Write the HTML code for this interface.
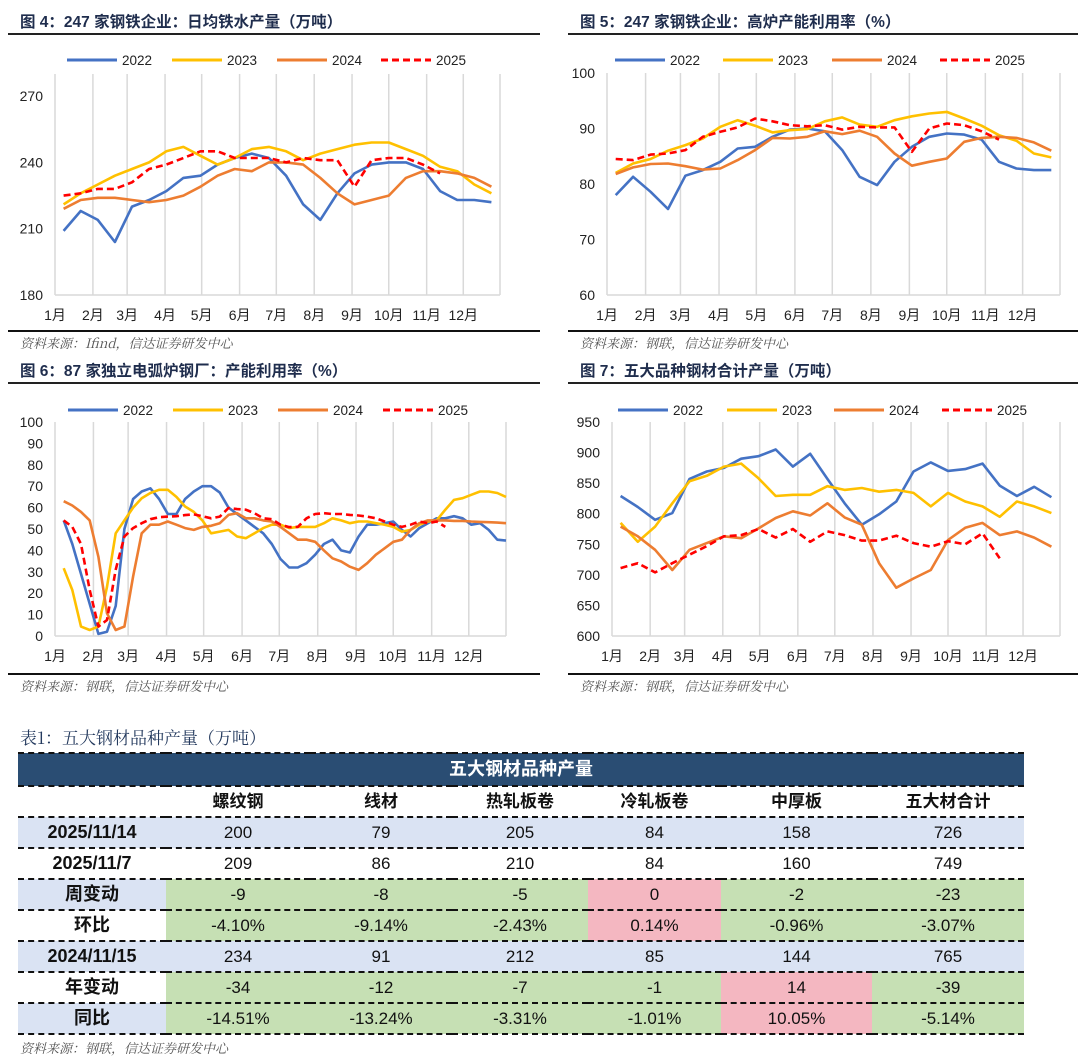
<!DOCTYPE html>
<html><head><meta charset="utf-8">
<style>
body{margin:0;background:#fff;width:1080px;height:1059px;position:relative;overflow:hidden;font-family:"Liberation Sans","Noto Sans CJK SC",sans-serif;}
#charts{position:absolute;left:0;top:0}
.tbl-title{position:absolute;left:20px;top:724px;font-family:"Noto Serif CJK SC",serif;font-size:17px;color:#243a5e;}
table{position:absolute;left:18px;top:752px;border-collapse:collapse;font-family:"Liberation Sans Narrow","Liberation Sans","Noto Sans CJK SC",sans-serif;font-size:17px;color:#111;}
td{padding:0;text-align:center;height:29px;line-height:29px;border-bottom:2px dashed #111;}
.hd td{background:#2a4d73;color:#fff;font-weight:bold;height:31px;line-height:31px;font-size:18px;border-top:2px dashed #111;}
.lbl{font-weight:bold;font-size:18px;}
.ch td{font-weight:bold;}
.b{background:#dae3f3}.g{background:#c6e0b4}.p{background:#f4b7c1}
.src2{position:absolute;left:20px;top:1038px;font-size:13px;font-style:italic;color:#555;font-family:"Noto Serif CJK SC",serif;}
</style></head><body>
<svg id="charts" width="1080" height="720"></svg>

<div class="tbl-title">表1：五大钢材品种产量（万吨）</div>
<table>
<colgroup><col style="width:148px"><col style="width:144px"><col style="width:142px"><col style="width:136px"><col style="width:133px"><col style="width:151px"><col style="width:152px"></colgroup>
<tr class="hd"><td colspan="7">五大钢材品种产量</td></tr>
<tr class="ch"><td></td><td>螺纹钢</td><td>线材</td><td>热轧板卷</td><td>冷轧板卷</td><td>中厚板</td><td>五大材合计</td></tr>
<tr class="b"><td class="lbl">2025/11/14</td><td>200</td><td>79</td><td>205</td><td>84</td><td>158</td><td>726</td></tr>
<tr><td class="lbl">2025/11/7</td><td>209</td><td>86</td><td>210</td><td>84</td><td>160</td><td>749</td></tr>
<tr><td class="lbl b">周变动</td><td class="g">-9</td><td class="g">-8</td><td class="g">-5</td><td class="p">0</td><td class="g">-2</td><td class="g">-23</td></tr>
<tr><td class="lbl">环比</td><td class="g">-4.10%</td><td class="g">-9.14%</td><td class="g">-2.43%</td><td class="p">0.14%</td><td class="g">-0.96%</td><td class="g">-3.07%</td></tr>
<tr class="b"><td class="lbl">2024/11/15</td><td>234</td><td>91</td><td>212</td><td>85</td><td>144</td><td>765</td></tr>
<tr><td class="lbl">年变动</td><td class="g">-34</td><td class="g">-12</td><td class="g">-7</td><td class="g">-1</td><td class="p">14</td><td class="g">-39</td></tr>
<tr><td class="lbl b">同比</td><td class="g">-14.51%</td><td class="g">-13.24%</td><td class="g">-3.31%</td><td class="g">-1.01%</td><td class="p">10.05%</td><td class="g">-5.14%</td></tr>
</table>
<div class="src2">资料来源：钢联，信达证券研发中心</div>

<script>
const months = ["1月","2月","3月","4月","5月","6月","7月","8月","9月","10月","11月","12月"];
const monthWeeks = [0,4.43,8.43,12.86,17.14,21.57,25.86,30.29,34.71,39,43.43,47.71];
const years = ["2022","2023","2024","2025"];
const biWeeks = [1,3,5,7,9,11,13,15,17,19,21,23,25,27,29,31,33,35,37,39,41,43,45,47,49,51];
const weeks = [1,2,3,4,5,6,7,8,9,10,11,12,13,14,15,16,17,18,19,20,21,22,23,24,25,26,27,28,29,30,31,32,33,34,35,36,37,38,39,40,41,42,43,44,45,46,47,48,49,50,51,52];

const c1Ticks = [180,210,240,270];
const c1_2022 = [209,218,214,204,220,223,227,233,234,239,242,244,242,234,221,214,226,235,239,240,240,237,227,223,223,222];
const c1_2023 = [221,226,230,234,237,240,245,247,243,239,242,246,247,245,241,244,246,248,249,249,246,243,238,236,230,226];
const c1_2024 = [219,223,224,224,223,222,223,225,229,234,237,236,240,240,239,233,226,221,223,225,233,236,236,235,233,229];
const c1_2025 = [225,226,228,228,231,237,239,242,245,245,242,242,242,240,242,241,241,229,241,242,242,239,235];

const c2Ticks = [60,70,80,90,100];
const c2_2022 = [78,81.3,78.6,75.5,81.5,82.5,84,86.4,86.7,88.5,89.8,90,89.5,86.1,81.3,79.8,84,86.7,88.5,89.1,88.9,88,84,82.8,82.5,82.5];
const c2_2023 = [82,83.7,84.5,86,87,88.2,90.3,91.5,90.5,89.3,89.7,89.9,91.3,92,90.7,90.3,91.5,92.2,92.7,93,91.8,90.5,88.8,87.8,85.5,84.8];
const c2_2024 = [81.8,83,83.6,83.7,83.2,82.6,82.8,84.3,86.1,88.3,88.2,88.5,89.5,89,89.6,88.5,85.5,83.3,84,84.6,87.6,88.3,88.5,88.3,87.5,86];
const c2_2025 = [84.5,84.3,85.3,85.5,86.1,88.5,89.4,90.2,91.8,91.3,90.6,90.4,90.6,89.8,90.3,90.2,90.2,85.8,90,90.9,90.6,89.5,88];

const c3Ticks = [0,10,20,30,40,50,60,70,80,90,100];
const c3_2022 = [54,43,29,15,1,2,14,50,64,67.5,69,64,57,57,64,67.5,70,70,67,60,57,54,51,48,43,36,32,32,34,38,43,45,40,39,46.5,52,52,52.7,53.5,49.6,46.5,50.4,52.7,55,55,56,55,52,52.7,49.6,45,44.6];
const c3_2023 = [31.7,21.5,4.4,2.8,4.4,23,48,54,60,64.4,66.8,68.3,68.3,65,60.5,58,54,48,48.8,49.6,46.5,45.7,48,50.4,52,52,50.4,51,51,51,52.7,55,54,52.7,53.5,53.5,52.7,52,51,48.8,49.6,52,53.5,54,59,63.6,64.4,66,67.5,67.5,66.8,65];
const c3_2024 = [63,61,58,54,37,10.6,2.8,4.4,27.8,48,52,52,53.5,52,50.4,49.6,51,51.5,52.7,56.6,57.4,55,55,54,53.5,51,48,45,45,44,40,36.3,34.8,32.4,30.9,34,38,41,44,45,49.6,52.7,54,54,54,53.8,53.8,53.5,53.3,53.2,53,52.7];
const c3_2025 = [54,51,43,21.5,4.4,7.5,31,46.5,50.4,52.7,54.6,55.5,55.8,56,56.5,56.8,56,55,55.8,59.8,59.3,59,57.4,55,54.6,52,50.9,51,55,57,57.4,57,57,56.6,56.3,55.8,55,53.5,52,51,52,53.5,52.7,53.5,51];

const c4Ticks = [600,650,700,750,800,850,900,950];
const c4_2022 = [829,811,790,801,857,869,875,890,894,905,877,898,857,817,782,799,820,869,884,870,873,882,846,829,844,827];
const c4_2023 = [785,754,779,817,853,862,877,882,858,829,831,831,845,839,842,836,839,834,812,834,820,812,795,820,812,801];
const c4_2024 = [779,763,741,708,741,752,763,760,776,793,804,797,817,794,782,719,679,694,708,757,777,785,765,771,761,746];
const c4_2025 = [711,719,704,719,733,747,763,765,775,761,775,754,771,765,756,756,764,752,746,755,750,768,727];

const NS = "http://www.w3.org/2000/svg";
const svg = document.getElementById("charts");
const colors = ["#4472c4","#ffc000","#ed7d31","#ff0000"];
function mk(tag, attrs, parent){
  const e = document.createElementNS(NS, tag);
  for (const k in attrs) e.setAttribute(k, attrs[k]);
  (parent||svg).appendChild(e);
  return e;
}
function txt(s, attrs, parent){ const t = mk("text", attrs, parent); t.textContent = s; return t; }

const charts = [
  {id:"fig4", x0:0, x1:540, L:55, R:500, T:74, B:295, ymin:180, ymax:280, ticks:c1Ticks, title:"图 4：247 家钢铁企业：日均铁水产量（万吨）", src:"资料来源：Ifind，信达证券研发中心", titleY:27, lineY:34, legY:60, botY:331, legX:[67,172,277,381], wk:biWeeks, series:[c1_2022,c1_2023,c1_2024,c1_2025]},
  {id:"fig5", x0:560, x1:1078, L:607, R:1060, T:73, B:295, ymin:60, ymax:100, ticks:c2Ticks, title:"图 5：247 家钢铁企业：高炉产能利用率（%）", src:"资料来源：钢联，信达证券研发中心", titleY:27, lineY:34, legY:60, botY:331, legX:[615,723,832,940], wk:biWeeks, series:[c2_2022,c2_2023,c2_2024,c2_2025]},
  {id:"fig6", x0:0, x1:540, L:55, R:506, T:422, B:636, ymin:0, ymax:100, ticks:c3Ticks, title:"图 6：87 家独立电弧炉钢厂：产能利用率（%）", src:"资料来源：钢联，信达证券研发中心", titleY:376, lineY:383, legY:410, botY:674, legX:[68,173,278,383], wk:weeks, series:[c3_2022,c3_2023,c3_2024,c3_2025]},
  {id:"fig7", x0:560, x1:1078, L:612, R:1060, T:422, B:636, ymin:600, ymax:950, ticks:c4Ticks, title:"图 7：五大品种钢材合计产量（万吨）", src:"资料来源：钢联，信达证券研发中心", titleY:376, lineY:383, legY:410, botY:674, legX:[618,727,834,942], wk:biWeeks, series:[c4_2022,c4_2023,c4_2024,c4_2025]}
];

charts.forEach(c => {
  const g = mk("g", {});
  
  
  const sx = w => c.L + w / 52 * (c.R - c.L);
  const sy = v => c.B - (v - c.ymin) / (c.ymax - c.ymin) * (c.B - c.T);
  const t = txt(c.title, {x:c.x0+20, y:c.titleY, "font-size":"15.5", "font-weight":"bold", fill:"#1f2d4d"}, g);
  
  
  mk("line", {x1:c.x0+8, x2:c.x1, y1:c.lineY, y2:c.lineY, stroke:"#222", "stroke-width":2}, g);
  mk("line", {x1:c.x0+8, x2:c.x1, y1:c.botY, y2:c.botY, stroke:"#111", "stroke-width":2}, g);
  const s = txt(c.src, {x:c.x0+20, y:c.botY+17, "font-size":"13", "font-style":"italic", fill:"#555", "font-family":"Noto Serif CJK SC, serif"}, g);
  
  
  monthWeeks.forEach((mw, i) => {
    const x = sx(mw);
    const gl = mk("line", {x1:x, x2:x, y1:c.T, y2:c.B, stroke:"#d9d9d9", "stroke-width":1.5}, g);
    
    
    const ml = txt(months[i], {x:x, y:c.B+25, "text-anchor":"middle", "font-size":"14", fill:"#222"}, g);
    
    
  });
  mk("line", {x1:c.R, x2:c.R, y1:c.T, y2:c.B, stroke:"#d9d9d9", "stroke-width":1.5}, g);
  mk("line", {x1:c.L, x2:c.R, y1:c.B, y2:c.B, stroke:"#d9d9d9", "stroke-width":1.5}, g);
  c.ticks.forEach(v => {
    const yl = txt(String(v), {x:c.L-12, y:sy(v)+5, "text-anchor":"end", "font-size":"14", fill:"#222"}, g);
    
    
  });
  c.series.forEach((vals, si) => {
    const d = vals.map((v, i) => (i ? "L" : "M") + sx(c.wk[i]).toFixed(1) + " " + sy(v).toFixed(1)).join(" ");
    const p = mk("path", {d:d, fill:"none", stroke:colors[si], "stroke-width":2.6, "stroke-linejoin":"round"}, g);
    if (si === 3) p.setAttribute("stroke-dasharray", "7,4");
    
    
    const lx = c.legX[si];
    const ll = mk("line", {x1:lx, x2:lx+50, y1:c.legY, y2:c.legY, stroke:colors[si], "stroke-width":3}, g);
    if (si === 3) ll.setAttribute("stroke-dasharray", "7,4");
    
    
    const lt = txt(years[si], {x:lx+55, y:c.legY+5, "font-size":"13.5", fill:"#222"}, g);
    
    
  });
});
</script>
</body></html>
